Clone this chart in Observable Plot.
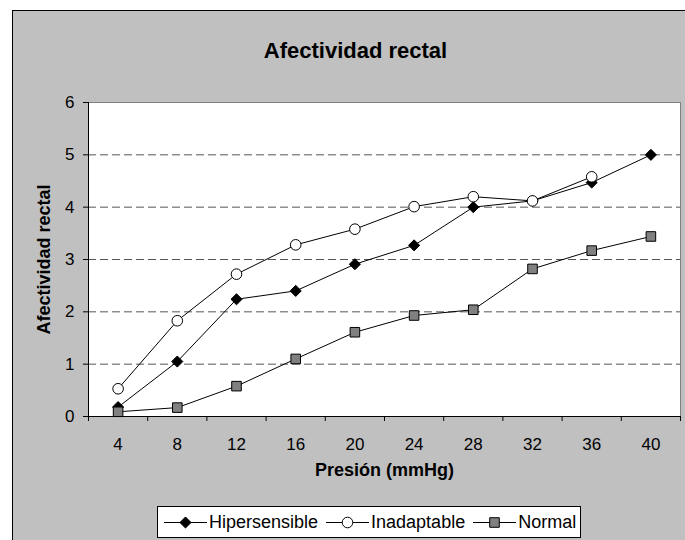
<!DOCTYPE html>
<html>
<head>
<meta charset="utf-8">
<script src="https://cdn.jsdelivr.net/npm/d3@7"></script>
<script src="https://cdn.jsdelivr.net/npm/@observablehq/plot@0.6"></script>
<style>
  html, body { margin: 0; padding: 0; background: #fff; overflow: hidden; width: 685px; height: 540px; }
  body { position: relative; font-family: "Liberation Sans", Arial, sans-serif; }
  #panel { position: absolute; left: 12px; top: 10px; width: 700px; height: 560px;
           background: #c0c0c0; border-left: 1.5px solid #000; border-top: 1.5px solid #000; }
  #chart { position: absolute; left: 0; top: 0; }
  #chart g[aria-label="y-axis tick label"] text,
  #chart g[aria-label="x-axis tick label"] text { font-size: 17px; }
  #legend { position: absolute; left: 157px; top: 506px; height: 32px; width: 424px;
            background: #fff; border: 1px solid #000; display: flex; align-items: center;
            padding-left: 6px; box-sizing: border-box; font-size: 18px; color: #000; }
  .item { display: flex; align-items: center; margin-right: 8px; }
  .item svg { margin-right: 2px; }
</style>
</head>
<body>
<div id="panel"></div>
<div id="chart"></div>
<div id="legend"></div>
<script>
// Pressure steps (mmHg) and mean rectal affectivity per group
const pressures = [4, 8, 12, 16, 20, 24, 28, 32, 36, 40];
const hipersensible = [0.18, 1.05, 2.24, 2.40, 2.91, 3.27, 4.00, 4.12, 4.47, 5.00];
const inadaptable = [0.53, 1.83, 2.72, 3.28, 3.58, 4.01, 4.20, 4.12, 4.58, null];
const normal = [0.09, 0.17, 0.58, 1.10, 1.61, 1.93, 2.04, 2.82, 3.17, 3.44];
const seriesNames = ["Hipersensible", "Inadaptable", "Normal"];
const yTicks = [0, 1, 2, 3, 4, 5, 6];

const seriesValues = [hipersensible, inadaptable, normal];
const rows = seriesNames.flatMap((name, k) =>
  pressures.map((p, i) => ({series: name, presion: p, valor: seriesValues[k][i]}))
    .filter(d => d.valor != null));

// x is continuous so each pressure sits in the middle of its slot;
// slot edges carry the tick marks
const step = pressures[1] - pressures[0];
const edges = [pressures[0] - step / 2, ...pressures.map(p => p + step / 2)];

const markerStyle = {
  Hipersensible: {symbol: "diamond2", r: 5, fill: "#000", stroke: "#000"},
  Inadaptable: {symbol: "circle", r: 5.3, fill: "#fff", stroke: "#000"},
  Normal: {symbol: "square", r: 5.4, fill: "#808080", stroke: "#000"}
};

const seriesMarks = seriesNames.flatMap(name => {
  const data = rows.filter(d => d.series === name);
  const m = markerStyle[name];
  return [
    Plot.line(data, {x: "presion", y: "valor", stroke: "#000", strokeWidth: 1}),
    Plot.dot(data, {x: "presion", y: "valor", symbol: () => m.symbol, r: m.r,
                    fill: m.fill, stroke: m.stroke, strokeWidth: 1})
  ];
});

const chart = Plot.plot({
  width: 685,
  height: 540,
  marginLeft: 88,
  marginRight: 5,
  marginTop: 102,
  marginBottom: 124,
  style: {background: "transparent", fontFamily: "'Liberation Sans', Arial, sans-serif", fontSize: "17px", color: "#000"},
  x: {domain: [edges[0], edges[edges.length - 1]]},
  y: {domain: [yTicks[0], yTicks[yTicks.length - 1]]},
  symbol: {type: "identity"},
  marks: [
    Plot.frame({fill: "#fff", stroke: "none"}),
    Plot.ruleY(yTicks.slice(1, -1), {stroke: "#555", strokeWidth: 1, strokeDasharray: "8,4"}),
    Plot.frame({stroke: "#808080", strokeWidth: 1}),
    Plot.ruleY([yTicks[0]], {stroke: "#000", strokeWidth: 1}),
    Plot.ruleX([edges[0]], {stroke: "#000", strokeWidth: 1}),
    Plot.axisY(yTicks, {tickSize: 5, tickPadding: 9, tickFormat: d3.format("d"), label: null, stroke: "#000"}),
    Plot.axisX(edges, {tickSize: 5, tickFormat: () => "", label: null, stroke: "#000"}),
    Plot.axisX(pressures, {tickSize: 0, tickPadding: 21, tickFormat: d3.format("d"), label: null}),
    ...seriesMarks,
    Plot.text(["Presión (mmHg)"], {frameAnchor: "bottom", dy: 59, fontWeight: "bold", fontSize: 18}),
    Plot.text(["Afectividad rectal"], {frameAnchor: "left", textAnchor: "middle", dx: -44, rotate: -90, fontWeight: "bold", fontSize: 18}),
    Plot.text(["Afectividad rectal"], {frameAnchor: "top", dx: -29, dy: -60, fontWeight: "bold", fontSize: 22})
  ]
});
document.getElementById("chart").appendChild(chart);

// Legend: line-with-marker swatch followed by the series name
const legend = d3.select("#legend");
seriesNames.forEach(name => {
  const m = markerStyle[name];
  const item = legend.append("div").attr("class", "item");
  const svg = item.append("svg").attr("width", 43).attr("height", 16);
  svg.append("line").attr("x1", 0).attr("x2", 43).attr("y1", 8.5).attr("y2", 8.5)
    .attr("stroke", "#000").attr("stroke-width", 1.2);
  const sym = {diamond2: d3.symbolDiamond2, circle: d3.symbolCircle, square: d3.symbolSquare}[m.symbol];
  svg.append("path")
    .attr("d", d3.symbol(sym, Math.PI * m.r * m.r)())
    .attr("transform", "translate(21.5,8.5)")
    .attr("fill", m.fill).attr("stroke", m.stroke);
  item.append("span").text(name);
});
</script>
</body>
</html>
